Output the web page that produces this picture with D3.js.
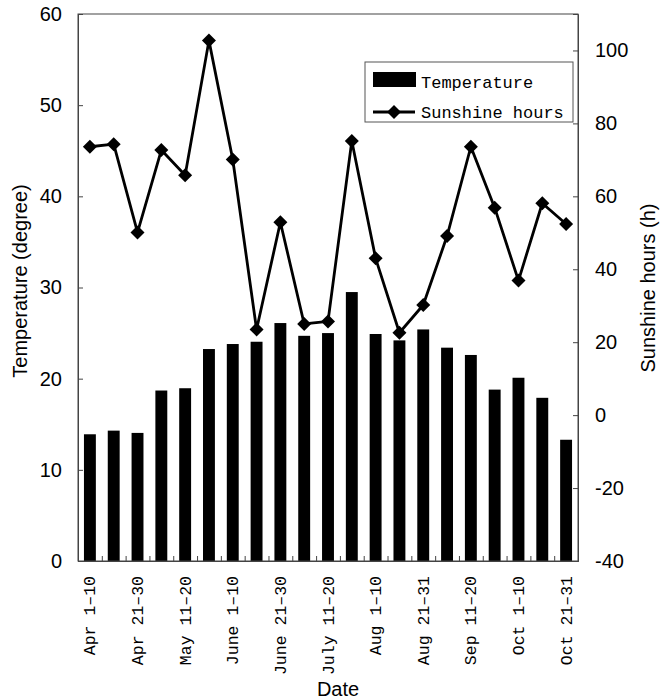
<!DOCTYPE html>
<html><head><meta charset="utf-8">
<script src="https://cdn.jsdelivr.net/npm/d3@7"></script>
<style>body{margin:0;background:#fff}</style>
</head><body><svg id="c" width="672" height="700"></svg>
<script>
const categories = ["Apr 1–10","Apr 11–20","Apr 21–30","May 1–10","May 11–20","May 21–31","June 1–10","June 11–20","June 21–30","July 1–10","July 11–20","July 21–31","Aug 1–10","Aug 11–20","Aug 21–31","Sep 1–10","Sep 11–20","Sep 21–30","Oct 1–10","Oct 11–20","Oct 21–31"];
const temperature = [13.9,14.3,14.05,18.7,18.95,23.25,23.8,24.05,26.1,24.7,25.0,29.5,24.9,24.2,25.4,23.4,22.6,18.8,20.1,17.9,13.3];
const sunshine = [73.6,74.3,50.1,72.7,65.8,102.7,70.1,23.5,52.9,25.0,25.7,75.2,43.0,22.6,30.2,49.1,73.6,56.9,36.9,58.1,52.4];
const leftTicks = [0,10,20,30,40,50,60];
const rightTicks = [-40,-20,0,20,40,60,80,100];
const labelEvery = 2;

const svg = d3.select("#c");
const L = 78, R = 578, T = 14, B = 561;
const x = d3.scaleBand().domain(categories).range([L, R]).paddingInner(0.5).paddingOuter(0.25);
const xb = d3.scaleLinear().domain([0, categories.length]).range([L, R]);
const yL = d3.scaleLinear().domain([0, 60]).range([B, T]);
const yR = d3.scaleLinear().domain([-40, 110]).range([B, T]);

const sans = "'Liberation Sans', Arial, sans-serif";
const mono = "'Liberation Mono', 'DejaVu Sans Mono', monospace";

// bars
svg.append("g").selectAll("rect").data(temperature).join("rect")
  .attr("x", (d,i) => x(categories[i]))
  .attr("width", x.bandwidth())
  .attr("y", d => yL(d))
  .attr("height", d => yL(0) - yL(d))
  .attr("fill", "#000");

// frame
svg.append("rect").attr("x", L).attr("y", T).attr("width", R-L).attr("height", B-T)
  .attr("fill", "none").attr("stroke", "#444").attr("stroke-width", 1);

// left axis
const gl = svg.append("g").attr("transform", `translate(${L},0)`)
  .call(d3.axisLeft(yL).tickValues(leftTicks).tickSize(-5).tickPadding(16).tickFormat(d => String(d)));
gl.select(".domain").attr("stroke", "#444");
gl.selectAll(".tick line").attr("stroke", "#444");
gl.selectAll("text").attr("font-family", sans).attr("font-size", 20).attr("fill", "#000");

// right axis
const gr = svg.append("g").attr("transform", `translate(${R},0)`)
  .call(d3.axisRight(yR).tickValues(rightTicks).tickSize(-5).tickPadding(17).tickFormat(d => String(d)));
gr.select(".domain").attr("stroke", "#444");
gr.selectAll(".tick line").attr("stroke", "#444");
gr.selectAll("text").attr("font-family", sans).attr("font-size", 20).attr("fill", "#000");

// bottom ticks between categories
const gb = svg.append("g").attr("transform", `translate(0,${B})`)
  .call(d3.axisBottom(xb).tickValues(d3.range(1, categories.length)).tickSize(-5).tickFormat(""));
gb.select(".domain").attr("stroke", "#444");
gb.selectAll(".tick line").attr("stroke", "#444");

// x labels
svg.append("g").selectAll("text")
  .data(categories.filter((d,i) => i % labelEvery === 0)).join("text")
  .attr("transform", d => `translate(${x(d) + x.bandwidth()/2 + 1},576) rotate(-90)`)
  .attr("text-anchor", "end").attr("dominant-baseline", "central")
  .attr("font-family", mono).attr("font-size", 16.5).attr("fill", "#000")
  .text(d => d);

// sunshine line
const cx = (d,i) => x(categories[i]) + x.bandwidth()/2;
svg.append("path").datum(sunshine)
  .attr("d", d3.line().x(cx).y(d => yR(d)))
  .attr("fill", "none").attr("stroke", "#000").attr("stroke-width", 2.8).attr("stroke-linejoin", "round");
const diamond = "M0,-7L7,0L0,7L-7,0Z";
svg.append("g").selectAll("path").data(sunshine).join("path")
  .attr("transform", (d,i) => `translate(${cx(d,i)},${yR(d)})`)
  .attr("d", diamond).attr("fill", "#000");

// axis titles
svg.append("text").attr("transform", "translate(20,281) rotate(-90)")
  .attr("text-anchor", "middle").attr("dominant-baseline", "central")
  .attr("font-family", sans).attr("font-size", 20).text("Temperature (degree)");
svg.append("text").attr("transform", "translate(648,288) rotate(-90)")
  .attr("text-anchor", "middle").attr("dominant-baseline", "central")
  .attr("font-family", sans).attr("font-size", 20).text("Sunshine hours (h)");
svg.append("text").attr("x", 338).attr("y", 696)
  .attr("text-anchor", "middle")
  .attr("font-family", sans).attr("font-size", 20).text("Date");

// legend
const lg = svg.append("g");
lg.append("rect").attr("x", 365).attr("y", 62).attr("width", 208).attr("height", 60)
  .attr("fill", "#fff").attr("stroke", "#555").attr("stroke-width", 1);
lg.append("rect").attr("x", 373).attr("y", 72).attr("width", 43).attr("height", 15).attr("fill", "#000");
lg.append("line").attr("x1", 373).attr("x2", 415).attr("y1", 112).attr("y2", 112)
  .attr("stroke", "#000").attr("stroke-width", 2.8);
lg.append("path").attr("transform", "translate(394,112)").attr("d", diamond).attr("fill", "#000");
lg.append("text").attr("x", 421).attr("y", 87.5).attr("font-family", mono).attr("font-size", 17).text("Temperature");
lg.append("text").attr("x", 421).attr("y", 117.5).attr("font-family", mono).attr("font-size", 17).text("Sunshine hours");
</script>
</body></html>
